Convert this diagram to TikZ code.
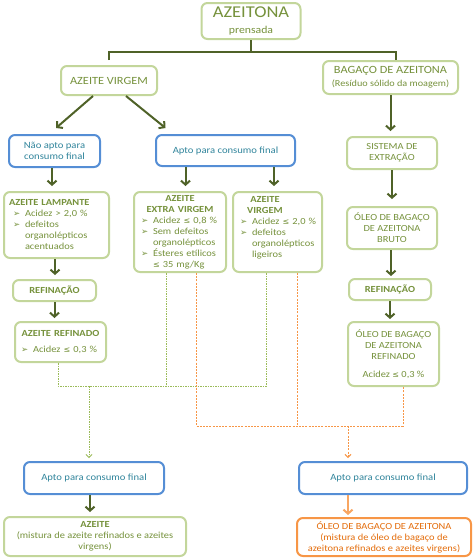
\documentclass[tikz,border=0pt]{standalone}
\usepackage{fontspec}
\setmainfont{Carlito}[FakeStretch=1.12]
\newfontfamily\symf{DejaVu Sans}
\usetikzlibrary{arrows.meta}

\definecolor{grbord}{HTML}{C3D69B}
\definecolor{grtext}{HTML}{76923C}
\definecolor{grdark}{HTML}{4F6228}
\definecolor{grdot}{HTML}{9BBB59}
\definecolor{blbord}{HTML}{558ED5}
\definecolor{bltext}{HTML}{31859C}
\definecolor{orbord}{HTML}{F79646}
\definecolor{ortext}{HTML}{E46C0A}

\newcommand{\bul}{\makebox[12pt][l]{\symf\fontsize{8.5}{8.5}\selectfont ➢}}
\newcommand{\ind}{\hspace*{12pt}}
\newcommand{\lesseq}{{\symf\fontsize{8}{9}\selectfont ≤}}
\newcommand{\ctr}[1]{\hfill#1\hfill\null}

\begin{document}
\begin{tikzpicture}
 [ x=1pt, y=-1pt
 , box/.style={line width=2pt, rounded corners=6pt, fill=white, align=center, inner sep=2pt, font=\fontsize{9.3}{11}\selectfont}
 , greenbox/.style={box, draw=grbord, text=grtext}
 , bluebox/.style={box, draw=blbord, text=bltext, font=\fontsize{9.5}{11.5}\selectfont}
 , orangebox/.style={box, draw=orbord, text=ortext}
 , flow/.style={draw=grdark, line width=2pt, -{Straight Barb[length=4pt,width=9pt]}}
 , bracket/.style={draw=grdark, line width=1.5pt}
 , gdots/.style={draw=grdot, line width=0.8pt, dash pattern=on 1.5pt off 1pt}
 , odots/.style={draw=orbord, line width=1pt, dash pattern=on 2pt off 1.2pt}
 , smalltip/.style={-{Straight Barb[length=3pt,width=6pt]}}
 ]
  \useasboundingbox (0,0) rectangle (474,560);

  % top
  \node[greenbox, minimum width=99pt, minimum height=36pt, font=\fontsize{16.5}{17}\selectfont] (olive) at (251,21)
    {AZEITONA\\[-1pt]{\fontsize{10.5}{11}\selectfont prensada}};
  \node[greenbox, minimum width=96pt, minimum height=29pt, font=\fontsize{11}{12}\selectfont] (av) at (109,80.5)
    {AZEITE VIRGEM};
  \node[greenbox, minimum width=135pt, minimum height=33pt, font=\fontsize{11}{13}\selectfont] (bag) at (390.5,77.5)
    {BAGAÇO DE AZEITONA\\{\fontsize{9.1}{11}\selectfont (Resíduo sólido da moagem)}};

  % second row
  \node[bluebox, minimum width=91pt, minimum height=32pt] (na) at (54.5,151) {Não apto para\\consumo final};
  \node[bluebox, minimum width=139pt, minimum height=31pt] (apto1) at (225.5,150.5) {Apto para consumo final};
  \node[greenbox, minimum width=90pt, minimum height=32pt] (sis) at (392,153) {SISTEMA DE\\EXTRAÇÃO};

  % oils
  \node[greenbox, minimum height=66pt, text width=101pt, align=left] (lamp) at (56.5,225)
    {\hspace*{3pt}\textbf{AZEITE LAMPANTE}\\
     \hspace*{7pt}\bul Acidez > 2,0 \%\\
     \hspace*{7pt}\bul defeitos\\
     \hspace*{7pt}\ind organolépticos\\
     \hspace*{7pt}\ind acentuados};
  \node[greenbox, minimum height=80pt, text width=88pt, align=left] (extra) at (180,232)
    {\ctr{\textbf{AZEITE}}\\
     \ctr{\textbf{EXTRA VIRGEM}}\\
     \hspace*{5pt}\bul Acidez \lesseq{} 0,8 \%\\
     \hspace*{5pt}\bul Sem defeitos\\
     \hspace*{5pt}\ind organolépticos\\
     \hspace*{5pt}\bul Ésteres etílicos\\
     \hspace*{5pt}\ind \lesseq{} 35 mg/Kg};
  \node[greenbox, minimum height=80pt, text width=85pt, align=left] (virg) at (277.5,232)
    {\makebox[60pt]{\textbf{AZEITE}}\\
     \makebox[60pt]{\textbf{VIRGEM}}\\
     \hspace*{5pt}\bul Acidez \lesseq{} 2,0 \%\\
     \hspace*{5pt}\bul defeitos\\
     \hspace*{5pt}\ind organolépticos\\
     \hspace*{5pt}\ind ligeiros\\
     \mbox{}};
  \node[greenbox, minimum width=90pt, minimum height=42pt] (bruto) at (392,228)
    {ÓLEO DE BAGAÇO\\DE AZEITONA\\BRUTO};

  % refining
  \node[greenbox, minimum width=83pt, minimum height=21pt] (ref1) at (54.5,290.5) {\textbf{REFINAÇÃO}};
  \node[greenbox, minimum width=82pt, minimum height=21pt] (ref2) at (390,289.5) {\textbf{REFINAÇÃO}};
  \node[greenbox, minimum height=40pt, text width=87pt, align=left] (aref) at (60.5,342)
    {\ctr{\textbf{AZEITE REFINADO}}\\[5pt]
     \hspace*{4pt}\bul Acidez \lesseq{} 0,3 \%};
  \node[greenbox, minimum width=91pt, minimum height=64pt] (oref) at (393.5,354)
    {ÓLEO DE BAGAÇO\\DE AZEITONA\\REFINADO\\[7pt]Acidez \lesseq{} 0,3 \%};

  % bottom
  \node[bluebox, minimum width=140pt, minimum height=32pt] (apto2) at (94,478) {Apto para consumo final};
  \node[bluebox, minimum width=168pt, minimum height=32pt] (apto3) at (383,478) {Apto para consumo final};
  \node[greenbox, minimum width=182pt, minimum height=39pt] (azeite) at (95,536.5)
    {\textbf{AZEITE}\\(mistura de azeite refinados e azeites\\virgens)};
  \node[orangebox, minimum width=174pt, minimum height=38pt] (obag) at (384,537)
    {ÓLEO DE BAGAÇO DE AZEITONA\\(mistura de óleo de bagaço de\\azeitona refinados e azeites virgens)};

  % bracket
  \coordinate (fork) at (251,52);
  \draw[bracket] (olive.south) -- (fork);
  \draw[bracket] ([yshift=5pt]av.north) |- (fork) -| ([xshift=5.5pt]bag.north);

  % solid arrows
  \draw[flow] ([xshift=-16pt]av.south) -- ([xshift=1.5pt,yshift=6pt]na.north);
  \draw[flow] ([xshift=17pt]av.south) -- ([xshift=-60pt,yshift=6pt]apto1.north);
  \draw[flow, shorten >=5pt] (bag.south) -- (bag.south |- sis.north);
  \coordinate (nl) at ([xshift=-2.5pt]na.south);
  \draw[flow, shorten >=5pt] (nl) -- (nl |- lamp.north);
  \coordinate (ae) at ([xshift=-40pt]apto1.south);
  \draw[flow, shorten >=5pt] (ae) -- (ae |- extra.north);
  \coordinate (av2) at ([xshift=48.5pt]apto1.south);
  \draw[flow, shorten >=5pt] (av2) -- (av2 |- virg.north);
  \draw[flow, shorten >=7pt] (sis.south) -- (sis.south |- bruto.north);
  \coordinate (lr) at ([xshift=-1.5pt]lamp.south);
  \draw[flow, shorten >=4pt] (lr) -- (lr |- ref1.north);
  \draw[flow, shorten >=3pt] (ref1.south) -- (ref1.south |- aref.north);
  \coordinate (br) at ([xshift=-1pt]bruto.south);
  \draw[flow, shorten >=2pt] (br) -- (br |- ref2.north);
  \draw[flow, shorten >=2pt] (ref2.south) -- (ref2.south |- oref.north);
  \coordinate (az) at ([xshift=-4pt]apto2.south);
  \draw[flow, shorten >=4pt] (az) -- (az |- azeite.north);
  \coordinate (ob) at ([xshift=-35pt]apto3.south);
  \draw[flow, draw=orbord!85, shorten >=2pt] (ob) -- (ob |- obag.north);

  % green dotted
  \coordinate (gbus) at (0,386);
  \coordinate (ag) at ([xshift=-2.5pt]aref.south);
  \coordinate (eg) at ([xshift=-14pt]extra.south);
  \coordinate (vg) at ([xshift=-11.5pt]virg.south);
  \coordinate (tg) at ([xshift=-5pt]apto2.north);
  \draw[gdots] (ag) |- (vg |- gbus) -- (vg);
  \draw[gdots] (eg) -- (eg |- gbus);
  \draw[gdots, smalltip, shorten >=3pt] (tg |- gbus) -- (tg);

  % orange dotted
  \coordinate (obus) at (0,426);
  \coordinate (eo) at ([xshift=16pt]extra.south);
  \coordinate (vo) at ([xshift=19.5pt]virg.south);
  \coordinate (ro) at ([xshift=9.5pt]oref.south);
  \coordinate (to) at ([xshift=-35pt]apto3.north);
  \draw[odots] (eo) |- (ro |- obus) -- (ro);
  \draw[odots] (vo) -- (vo |- obus);
  \draw[odots, smalltip, shorten >=3pt] (to |- obus) -- (to);
\end{tikzpicture}
\end{document}
